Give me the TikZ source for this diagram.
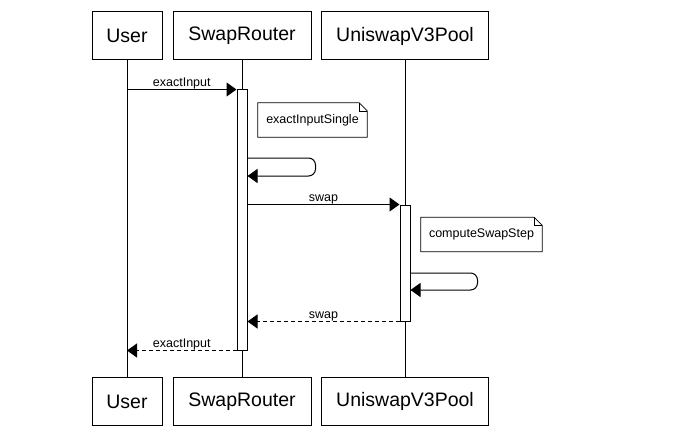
\documentclass[tikz,border=0pt]{standalone}
\usepackage{fontspec}
\setmainfont{Liberation Sans}
\usetikzlibrary{positioning, arrows.meta}

\begin{document}
\begin{tikzpicture}[
  x=1pt, y=-1pt,
  every node/.style={rectangle, sharp corners, align=center},
  actor/.style={draw, line width=1pt, minimum height=48pt, font=\fontsize{19.5}{22}\selectfont},
  act/.style={draw, fill=white, line width=1pt, minimum width=10pt},
  msg/.style={-{Triangle[length=10pt, width=14pt]}, line width=1pt},
  reply/.style={msg, dash pattern=on 4pt off 3pt},
  lbl/.style={font=\fontsize{12.5}{14}\selectfont, inner sep=0pt},
  note/.style={minimum height=34pt, font=\fontsize{12.5}{14}\selectfont}
]
\useasboundingbox (0,0) rectangle (676,433);

% Top participants
\node[actor, minimum width=70pt] (userTop) at (127,36) {User};
\node[actor, minimum width=138pt] (routerTop) at (242,36) {SwapRouter};
\node[actor, minimum width=167pt] (poolTop) at (405,36) {UniswapV3Pool};

% Bottom participants
\node[actor, minimum width=70pt] (userBot) at (127,401.5) {User};
\node[actor, minimum width=138pt] (routerBot) at (242,401.5) {SwapRouter};
\node[actor, minimum width=167pt] (poolBot) at (405,401.5) {UniswapV3Pool};

% Lifelines
\draw[line width=1pt] (userTop) -- (userBot);
\draw[line width=1pt] (routerTop) -- (routerBot);
\draw[line width=1pt] (poolTop) -- (poolBot);

% Activations
\node[act, minimum height=260pt] (routerAct) at (242,220) {};
\node[act, minimum height=116pt] (poolAct) at (405,263) {};

% Call: exactInput
\draw[msg] (userTop |- routerAct.north) -- (routerAct.north west)
  node[midway, above, lbl] {exactInput};

% Note: exactInputSingle
\node[note, minimum width=109pt] (noteSingle) at (312.5,120) {exactInputSingle};
\draw[line width=0.8pt] (noteSingle.north west) -- ([xshift=-8pt]noteSingle.north east)
  -- ([yshift=-8pt]noteSingle.north east) -- (noteSingle.south east)
  -- (noteSingle.south west) -- cycle;
\draw[line width=0.5pt] ([xshift=-8pt]noteSingle.north east) -- ++(0,8) -- ++(8,0);

% Self call on SwapRouter
\draw[msg, rounded corners=7pt] (routerAct.east |- 0,158) -- ++(68,0) -- ++(0,18)
  -- (routerAct.east |- 0,176);

% Call: swap
\draw[msg] (routerAct.east |- poolAct.north) -- (poolAct.north west)
  node[midway, above, lbl] {swap};

% Note: computeSwapStep
\node[note, minimum width=121pt] (noteStep) at (481.5,234.5) {computeSwapStep};
\draw[line width=0.8pt] (noteStep.north west) -- ([xshift=-8pt]noteStep.north east)
  -- ([yshift=-8pt]noteStep.north east) -- (noteStep.south east)
  -- (noteStep.south west) -- cycle;
\draw[line width=0.5pt] ([xshift=-8pt]noteStep.north east) -- ++(0,8) -- ++(8,0);

% Self call on UniswapV3Pool
\draw[msg, rounded corners=7pt] (poolAct.east |- 0,273) -- ++(67,0) -- ++(0,17)
  -- (poolAct.east |- 0,290);

% Return: swap
\draw[reply] (poolAct.south west) -- (routerAct.east |- poolAct.south)
  node[midway, above, lbl] {swap};

% Return: exactInput
\draw[reply] (routerAct.south west) -- (userTop |- routerAct.south)
  node[midway, above, lbl] {exactInput};

\end{tikzpicture}
\end{document}
